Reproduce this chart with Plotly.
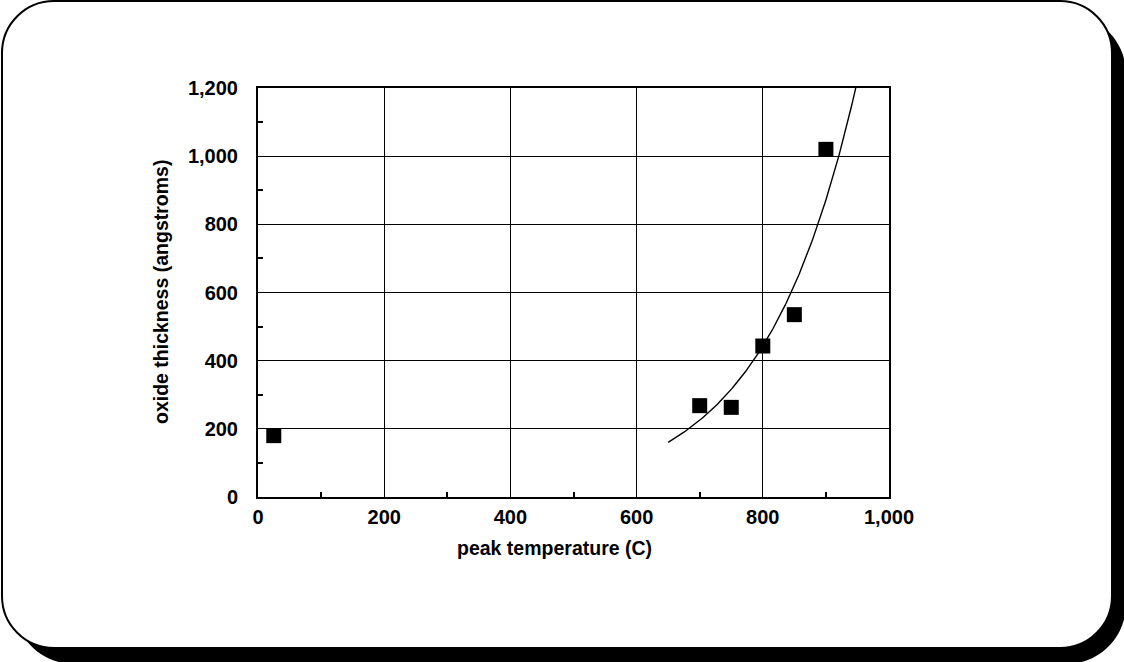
import numpy as np
import plotly.graph_objects as go

# Measured oxide thickness against peak anneal temperature
temps = [25, 700, 750, 800, 850, 900]
thickness = [180, 268, 263, 443, 535, 1020]

x_ticks = [0, 200, 400, 600, 800, 1000]
y_ticks = [0, 200, 400, 600, 800, 1000, 1200]
x_minor = [100, 300, 500, 700, 900]
y_minor = [100, 300, 500, 700, 900, 1100]

# Exponential trendline fitted to the heated samples, extended 50 C either side
fit_t = np.array(temps[1:], dtype=float)
fit_y = np.array(thickness[1:], dtype=float)
b, ln_a = np.polyfit(fit_t, np.log(fit_y), 1)
trend_t = np.linspace(fit_t.min() - 50, fit_t.max() + 50, 200)
trend_y = np.exp(ln_a + b * trend_t)

W, H = 1124, 662
L, R, T, B = 258, 889, 88, 497  # plot area in pixels


def px(x):
    return (x - L) / (R - L)


def py(y):
    return (B - y) / (B - T)


def rounded_rect(x0, y0, x1, y1, r):
    k = 0.5523 * r
    pts = [
        ("M", [(x0 + r, y0)]),
        ("L", [(x1 - r, y0)]),
        ("C", [(x1 - r + k, y0), (x1, y0 + r - k), (x1, y0 + r)]),
        ("L", [(x1, y1 - r)]),
        ("C", [(x1, y1 - r + k), (x1 - r + k, y1), (x1 - r, y1)]),
        ("L", [(x0 + r, y1)]),
        ("C", [(x0 + r - k, y1), (x0, y1 - r + k), (x0, y1 - r)]),
        ("L", [(x0, y0 + r)]),
        ("C", [(x0, y0 + r - k), (x0 + r - k, y0), (x0 + r, y0)]),
    ]
    s = ""
    for cmd, coords in pts:
        s += cmd + " " + " ".join(f"{px(a):.5f},{py(c):.5f}" for a, c in coords) + " "
    return s + "Z"


font = dict(family="Liberation Sans, Arial, sans-serif", color="black", weight="bold")

fig = go.Figure()
fig.add_trace(go.Scatter(
    x=trend_t, y=trend_y, mode="lines",
    line=dict(color="black", width=1.4), hoverinfo="skip", showlegend=False,
))
fig.add_trace(go.Scatter(
    x=temps, y=thickness, mode="markers",
    marker=dict(symbol="square", size=15, color="black"), showlegend=False,
))

shapes = [
    # drop shadow of the frame
    dict(type="path", xref="paper", yref="paper", layer="below",
         path=rounded_rect(14, 14, 1126, 664, 60),
         fillcolor="black", line=dict(width=0)),
    # frame
    dict(type="path", xref="paper", yref="paper", layer="below",
         path=rounded_rect(2, 1, 1112, 648, 52),
         fillcolor="white", line=dict(color="black", width=2)),
]

annotations = [
    dict(text="peak temperature (C)", x=px(554), y=py(548), xref="paper", yref="paper",
         showarrow=False, xanchor="center", yanchor="middle", font=dict(size=19.5, **font)),
    dict(text="oxide thickness (angstroms)", x=px(161), y=py(292), xref="paper", yref="paper",
         showarrow=False, xanchor="center", yanchor="middle", textangle=-90,
         font=dict(size=19.5, **font)),
]

axis_common = dict(
    showgrid=True, gridcolor="black", gridwidth=1.3,
    showline=True, linecolor="black", linewidth=2, mirror=True,
    ticks="", zeroline=False, tickformat=",", tickfont=dict(size=20, **font),
)

fig.update_layout(
    width=W, height=H,
    margin=dict(l=L, r=W - R, t=T, b=H - B),
    paper_bgcolor="white", plot_bgcolor="rgba(0,0,0,0)",
    shapes=shapes, annotations=annotations,
    xaxis=dict(range=[0, 1000], tickvals=x_ticks, ticklabelstandoff=1,
               minor=dict(tickvals=x_minor, ticks="inside", ticklen=5,
                          tickcolor="black", tickwidth=1.5, showgrid=False),
               **axis_common),
    yaxis=dict(range=[0, 1200], tickvals=y_ticks, ticklabelstandoff=14,
               minor=dict(tickvals=y_minor, ticks="inside", ticklen=5,
                          tickcolor="black", tickwidth=1.5, showgrid=False),
               **axis_common),
)

fig.write_html("out.html")
